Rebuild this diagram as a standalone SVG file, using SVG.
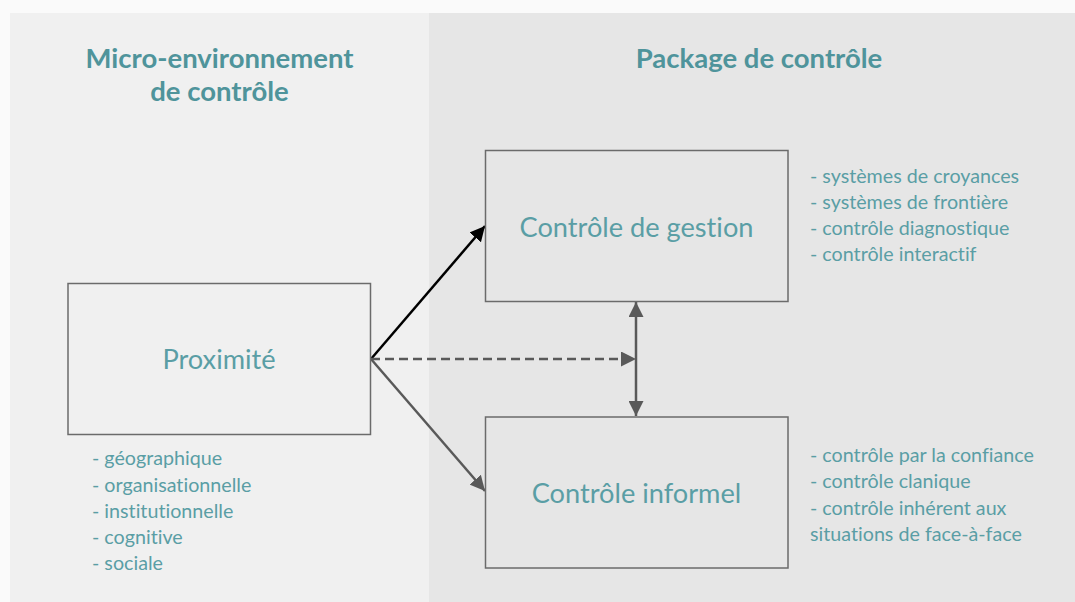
<svg xmlns="http://www.w3.org/2000/svg" width="1075" height="602" viewBox="0 0 1075 602">
<defs>
<style>
text{font-variant-ligatures:none}
.title{font-family:Lato,"Open Sans",sans-serif;font-weight:bold;font-size:27.5px;fill:#4f949b;text-anchor:middle}
.lbl{font-family:Lato,"Open Sans",sans-serif;font-size:27.2px;fill:#5a9ea5;text-anchor:middle}
.lst{font-family:Lato,"Open Sans",sans-serif;font-size:19.7px;fill:#5a9ea5}
.box{stroke:#6b6b6b;stroke-width:1.5}
.ln{fill:none;stroke-width:2.5}
</style>
<marker id="ahB" viewBox="0 0 10 10" refX="10" refY="5" markerWidth="6" markerHeight="6" markerUnits="strokeWidth" orient="auto-start-reverse"><path d="M0,0 L10,5 L0,10 z" fill="#000"/></marker>
<marker id="ahG" viewBox="0 0 10 10" refX="10" refY="5" markerWidth="6" markerHeight="6" markerUnits="strokeWidth" orient="auto-start-reverse"><path d="M0,0 L10,5 L0,10 z" fill="#595959"/></marker>
</defs>
<rect x="0" y="0" width="1075" height="602" fill="#fafafa"/>
<rect x="10" y="13" width="419" height="589" fill="#f0f0f0"/>
<rect x="429" y="13" width="646" height="589" fill="#e6e6e6"/>
<g id="titles">
<text class="title" x="219.5" y="68">Micro-environnement</text>
<text class="title" x="219.5" y="101">de contrôle</text>
<text class="title" x="759" y="68">Package de contrôle</text>
</g>
<g id="connectors">
<line class="ln" x1="371" y1="359" x2="485" y2="226" stroke="#000" marker-end="url(#ahB)"/>
<line class="ln" x1="371" y1="359" x2="485" y2="491" stroke="#595959" marker-end="url(#ahG)"/>
<line class="ln" x1="371" y1="359" x2="636" y2="359" stroke="#595959" stroke-dasharray="9,5" marker-end="url(#ahG)"/>
<line class="ln" x1="636" y1="302" x2="636" y2="416" stroke="#595959" marker-start="url(#ahG)" marker-end="url(#ahG)"/>
</g>
<g id="proximite">
<rect class="box" x="68" y="283.5" width="302.5" height="151" fill="#f0f0f0"/>
<text class="lbl" x="219" y="369">Proximité</text>
</g>
<g id="gestion">
<rect class="box" x="485.5" y="150.5" width="302.5" height="151" fill="#e6e6e6"/>
<text class="lbl" x="636.5" y="237">Contrôle de gestion</text>
</g>
<g id="informel">
<rect class="box" x="485.5" y="417" width="302.5" height="151" fill="#e6e6e6"/>
<text class="lbl" x="636.5" y="503">Contrôle informel</text>
</g>
<g id="list-proximite" class="lst">
<text x="92" y="465">- géographique</text>
<text x="92" y="491.5">- organisationnelle</text>
<text x="92" y="518">- institutionnelle</text>
<text x="92" y="544">- cognitive</text>
<text x="92" y="570">- sociale</text>
</g>
<g id="list-gestion" class="lst">
<text x="810" y="183">- systèmes de croyances</text>
<text x="810" y="209">- systèmes de frontière</text>
<text x="810" y="235">- contrôle diagnostique</text>
<text x="810" y="261">- contrôle interactif</text>
</g>
<g id="list-informel" class="lst">
<text x="810" y="461.5">- contrôle par la confiance</text>
<text x="810" y="488">- contrôle clanique</text>
<text x="810" y="514.5">- contrôle inhérent aux</text>
<text x="810" y="540.5">situations de face-à-face</text>
</g>
</svg>
